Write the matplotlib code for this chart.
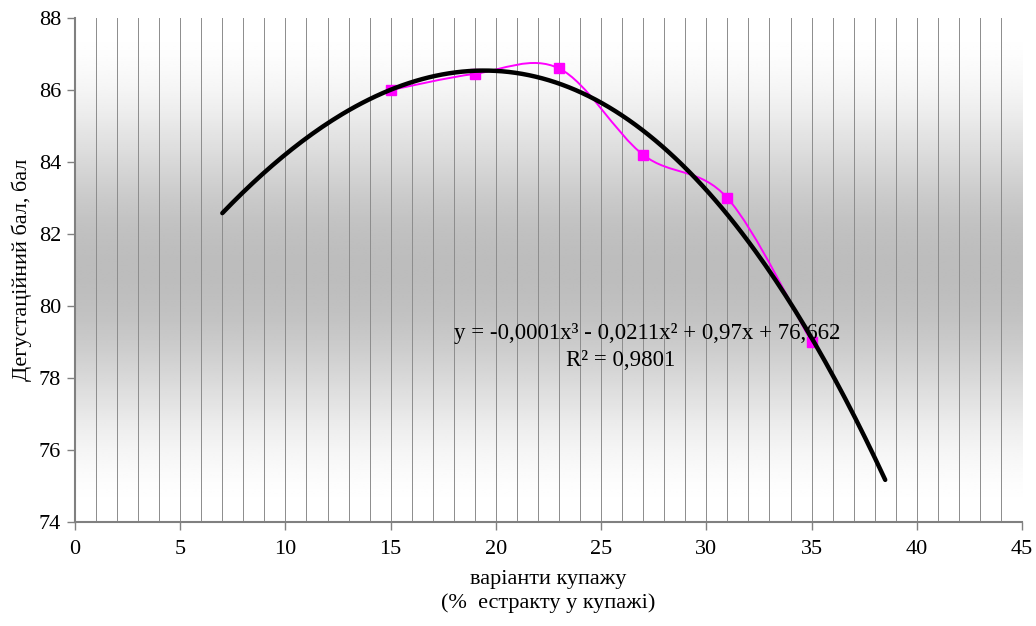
import numpy as np
import matplotlib.pyplot as plt
from matplotlib.path import Path
from matplotlib.patches import PathPatch

# data
x_pts = [15, 19, 23, 27, 31, 35]
y_pts = [86.0, 86.45, 86.6, 84.2, 83.0, 79.0]
trend_from = 7.0    # trendline forecast backward
trend_to = 38.5     # trendline forecast forward
eq_text = 'y = -0,0001x³ - 0,0211x² + 0,97x + 76,662'
r2_text = 'R² = 0,9801'
xlabel = 'варіанти купажу\n(%  естракту у купажі)'
ylabel = 'Дегустаційний бал, бал'

plt.rcParams['font.family'] = ['Liberation Serif', 'DejaVu Serif']

fig = plt.figure(figsize=(10.36, 6.26), dpi=100)
ax = fig.add_axes([0.0724, 0.166, 0.9141, 0.8052])
ax.set_xlim(0, 45)
ax.set_ylim(74, 88)

# gradient background: white top and bottom, gray in the middle
t = np.linspace(0, 1, 256)
shade = 1.0 - 0.26 * np.sin(np.pi * t) ** 2.2
grad = np.repeat(shade[:, None], 2, axis=1)
ax.imshow(grad, cmap='gray', vmin=0, vmax=1, aspect='auto',
          extent=[0, 45, 74, 88], zorder=0, interpolation='bilinear')

# vertical gridlines each unit
for gx in range(1, 46):
    ax.axvline(gx, color='#8c8c8c', lw=0.7, zorder=1)

# smoothed line (Excel style bezier)
px = np.array(x_pts, float)
py = np.array(y_pts, float)
verts = [(px[0], py[0])]
codes = [Path.MOVETO]
n = len(px)
for i in range(n - 1):
    p0 = np.array([px[max(i - 1, 0)], py[max(i - 1, 0)]])
    p1 = np.array([px[i], py[i]])
    p2 = np.array([px[i + 1], py[i + 1]])
    p3 = np.array([px[min(i + 2, n - 1)], py[min(i + 2, n - 1)]])
    c1 = p1 + (p2 - p0) / 6.0
    c2 = p2 - (p3 - p1) / 6.0
    verts += [tuple(c1), tuple(c2), tuple(p2)]
    codes += [Path.CURVE4, Path.CURVE4, Path.CURVE4]
ax.add_patch(PathPatch(Path(verts, codes), facecolor='none',
                       edgecolor='#ff00ff', lw=1.4, zorder=3))
ax.plot(x_pts, y_pts, 's', color='#ff00ff', ms=6.5, zorder=4)

# polynomial trendline (3rd order) from the points
coef = np.polyfit(px, py, 3)
xt = np.linspace(trend_from, trend_to, 200)
ax.plot(xt, np.polyval(coef, xt), color='black', lw=3.2,
        solid_capstyle='round', zorder=5)

ax.text(27.2, 79.25, eq_text, ha='center', va='center', fontsize=16.5, zorder=6)
ax.text(25.95, 78.5, r2_text, ha='center', va='center', fontsize=16.5, zorder=6)

ax.set_xticks(range(0, 46, 5))
ax.set_yticks(range(74, 89, 2))
ax.tick_params(axis='both', labelsize=16, color='#808080', length=6,
               width=1, direction='out', pad=7)
ax.tick_params(axis='y', pad=4)
for s in ['top', 'right']:
    ax.spines[s].set_visible(False)
for s in ['left', 'bottom']:
    ax.spines[s].set_color('#808080')
    ax.spines[s].set_linewidth(1.5)
    ax.spines[s].set_zorder(7)

ax.set_xlabel(xlabel, fontsize=16, labelpad=8, linespacing=1.25)
ax.set_ylabel(ylabel, fontsize=16, labelpad=5)

plt.savefig('out.png', dpi=100)
